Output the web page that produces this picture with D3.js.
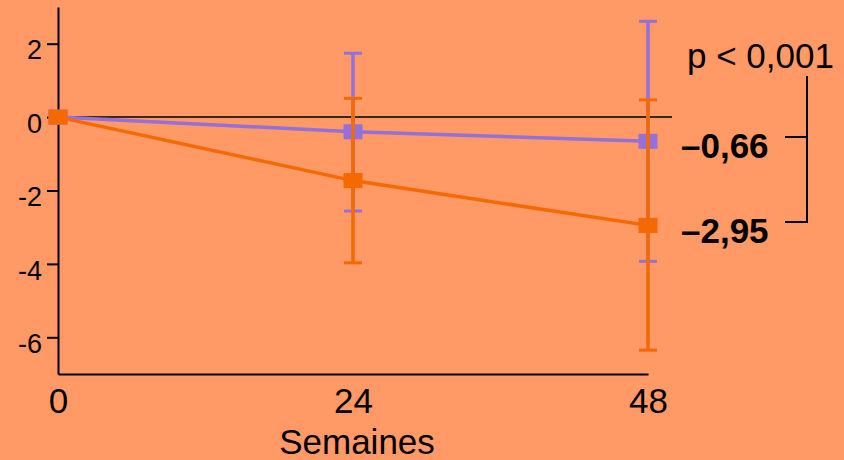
<!DOCTYPE html>
<html>
<head>
<meta charset="utf-8">
<script src="https://cdn.jsdelivr.net/npm/d3@7"></script>
<style>
  html, body { margin: 0; padding: 0; background: #FF9966; }
  svg { display: block; font-family: "Liberation Sans", Arial, sans-serif; }
</style>
</head>
<body>
<svg id="chart" width="844" height="460"></svg>
<script>
// weeks on x axis
const weeks = [0, 24, 48];
const xTicks = [0, 24, 48];
const yTicks = [2, 0, -2, -4, -6];

// purple series (mean, error bar low / high)
const purpleMean = [0, -0.40, -0.66];
const purpleLow  = [null, -2.56, -3.93];
const purpleHigh = [null, 1.74, 2.61];

// orange series
const orangeMean = [0, -1.73, -2.95];
const orangeLow  = [null, -3.97, -6.35];
const orangeHigh = [null, 0.51, 0.47];

const endLabels = ["\u20130,66", "\u20132,95"];
const pLabel = "p < 0,001";

const PURPLE = "#9370DB";
const ORANGE = "#F56A00";

const svg = d3.select("#chart");
svg.append("rect").attr("width", 844).attr("height", 460).attr("fill", "#FF9966");

const x = d3.scaleLinear().domain([0, 48]).range([58, 648]);
const y = d3.scaleLinear().domain([-7, 3]).range([374, 7]);

// zero reference line
svg.append("line")
  .attr("x1", x(0)).attr("x2", 672)
  .attr("y1", y(0)).attr("y2", y(0))
  .attr("stroke", "#000").attr("stroke-width", 1.5);

// axes
const yAxis = d3.axisLeft(y).tickValues(yTicks).tickSize(11).tickSizeOuter(0).tickPadding(5)
  .tickFormat(d => d < 0 ? "-" + Math.abs(d) : d);
const gy = svg.append("g").attr("transform", `translate(${x(0)},0)`).call(yAxis);
gy.selectAll("path, line").attr("stroke", "#000").attr("stroke-width", 2);
gy.selectAll("text").attr("font-size", 27).attr("fill", "#000").attr("font-family", null)
  .attr("dy", "0.56em");

const xAxis = d3.axisBottom(x).tickValues(xTicks).tickSize(0).tickSizeOuter(0).tickPadding(14);
const gx = svg.append("g").attr("transform", `translate(0,${y(-7)})`).call(xAxis);
gx.select("path").attr("stroke", "#000").attr("stroke-width", 2);
gx.selectAll("text").attr("font-size", 35).attr("fill", "#000").attr("font-family", null);

svg.append("text")
  .attr("x", 357).attr("y", 454)
  .attr("text-anchor", "middle").attr("font-size", 35)
  .text("Semaines");

function drawSeries(mean, low, high, color) {
  const pts = weeks.map((w, i) => ({ w, m: mean[i], lo: low[i], hi: high[i] }));
  const g = svg.append("g");
  const bars = pts.filter(d => d.lo !== null);
  g.selectAll(".bar").data(bars).join("line")
    .attr("x1", d => x(d.w)).attr("x2", d => x(d.w))
    .attr("y1", d => y(d.lo)).attr("y2", d => y(d.hi))
    .attr("stroke", color).attr("stroke-width", 3.5);
  g.selectAll(".cap").data(bars.flatMap(d => [[d.w, d.lo], [d.w, d.hi]])).join("line")
    .attr("x1", d => x(d[0]) - 9).attr("x2", d => x(d[0]) + 9)
    .attr("y1", d => y(d[1])).attr("y2", d => y(d[1]))
    .attr("stroke", color).attr("stroke-width", 3);
  g.append("path").datum(pts)
    .attr("d", d3.line().x(d => x(d.w)).y(d => y(d.m)))
    .attr("fill", "none").attr("stroke", color).attr("stroke-width", 3.5);
  g.selectAll(".mk").data(pts).join("rect")
    .attr("x", d => x(d.w) - 9.5).attr("y", d => y(d.m) - 7.5)
    .attr("width", 19).attr("height", 15)
    .attr("fill", color);
}

drawSeries(purpleMean, purpleLow, purpleHigh, PURPLE);
drawSeries(orangeMean, orangeLow, orangeHigh, ORANGE);

// annotation on the right
svg.append("text").attr("x", 687).attr("y", 68).attr("font-size", 35).text(pLabel);
svg.selectAll(".end").data(endLabels).join("text")
  .attr("x", 681).attr("y", (d, i) => i === 0 ? 158 : 243)
  .attr("font-size", 35).attr("font-weight", "bold")
  .text(d => d);

svg.append("path")
  .attr("d", "M785,137 H807 V76 M807,137 V222 H785")
  .attr("fill", "none").attr("stroke", "#000").attr("stroke-width", 2);
</script>
</body>
</html>
